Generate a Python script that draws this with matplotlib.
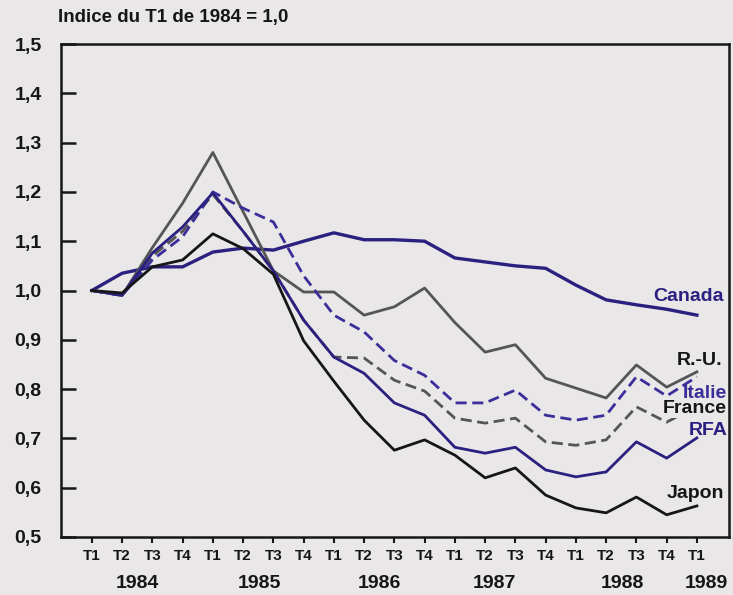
import matplotlib
matplotlib.use("Agg")
import matplotlib.pyplot as plt
import numpy as np

plt.rcParams['font.family'] = ['Liberation Sans', 'DejaVu Sans']
plt.rcParams['font.weight'] = 'bold'

quarters = ["T1", "T2", "T3", "T4"] * 5 + ["T1"]
years = ["1984", "1985", "1986", "1987", "1988", "1989"]
year_pos = [1.5, 5.55, 9.5, 13.3, 17.55, 20.3]

canada = [1.0, 1.035, 1.048, 1.048, 1.078, 1.086, 1.082, 1.10, 1.117, 1.103, 1.103, 1.10,
          1.066, 1.058, 1.05, 1.045, 1.011, 0.981, 0.971, 0.962, 0.95]
ru = [1.0, 0.99, 1.087, 1.177, 1.28, 1.16, 1.04, 0.997, 0.997, 0.95, 0.967, 1.005,
      0.935, 0.875, 0.89, 0.822, 0.802, 0.782, 0.849, 0.804, 0.835]
italie = [1.0, 0.99, 1.062, 1.109, 1.20, 1.167, 1.139, 1.03, 0.95, 0.916, 0.858, 0.828,
          0.772, 0.772, 0.798, 0.747, 0.737, 0.747, 0.825, 0.786, 0.825]
france = [1.0, 0.99, 1.07, 1.12, 1.195, 1.12, 1.04, 0.94, 0.865, 0.863, 0.818, 0.796,
          0.741, 0.731, 0.741, 0.693, 0.686, 0.697, 0.764, 0.733, 0.765]
rfa = [1.0, 0.99, 1.076, 1.129, 1.198, 1.12, 1.04, 0.94, 0.865, 0.832, 0.772, 0.747,
       0.682, 0.67, 0.682, 0.636, 0.622, 0.632, 0.693, 0.66, 0.701]
japon = [1.0, 0.995, 1.048, 1.062, 1.115, 1.085, 1.033, 0.898, 0.816, 0.737, 0.676, 0.697,
         0.666, 0.62, 0.64, 0.585, 0.559, 0.549, 0.581, 0.545, 0.563]

BG = '#e9e7e7'
BLUE = '#2a2080'
BLUE2 = '#3a2f9a'
GRAY = '#555555'
BLACK = '#161616'

fig = plt.figure(figsize=(7.33, 5.95), dpi=100, facecolor=BG)
ax = fig.add_axes([0.0832, 0.0975, 0.9113, 0.8285], facecolor=BG)

x = np.arange(len(quarters))
ax.plot(x, canada, color=BLUE, lw=2.4)
ax.plot(x, ru, color=GRAY, lw=2.0)
ax.plot(x, france, color=GRAY, lw=2.0, dashes=(4, 2))
ax.plot(x, italie, color=BLUE2, lw=2.0, dashes=(4, 2))
ax.plot(x, rfa, color=BLUE, lw=2.0)
ax.plot(x, japon, color=BLACK, lw=2.0)

ax.set_xlim(-1.02, 21.06)
ax.set_ylim(0.5, 1.5)

yt = np.round(np.arange(0.5, 1.51, 0.1), 1)
ax.set_yticks(yt)
ax.set_yticklabels([f"{v:.1f}".replace('.', ',') for v in yt], fontsize=14, fontweight='bold')
ax.tick_params(axis='y', direction='in', length=11, width=1.8, pad=14, colors=BLACK)
ax.set_xticks(x)
ax.set_xticklabels(quarters, fontsize=11, fontweight='bold')
ax.tick_params(axis='x', direction='out', length=4, width=1.5, pad=5, colors=BLACK)

for s in ax.spines.values():
    s.set_linewidth(1.8)
    s.set_color(BLACK)

for yl, yp in zip(years, year_pos):
    ax.text(yp, -0.094, yl, transform=ax.get_xaxis_transform(), ha='center', va='center',
            fontsize=14, fontweight='bold', color=BLACK)

fig.text(0.079, 0.970, "Indice du T1 de 1984 = 1,0", ha='left', va='center',
         fontsize=13.5, fontweight='bold', color=BLACK)

lab_kw = dict(ha='right', va='center', fontsize=14, fontweight='bold')
box = dict(facecolor=BG, edgecolor='none', pad=0.3)
ax.text(20.9, 0.987, "Canada", color=BLUE, **lab_kw)
ax.text(20.85, 0.859, "R.-U.", color=BLACK, **lab_kw)
ax.text(21.0, 0.792, "Italie", color=BLUE2, **lab_kw)
ax.text(21.0, 0.760, "France", color=BLACK, bbox=box, **lab_kw)
ax.text(21.0, 0.717, "RFA", color=BLUE, **lab_kw)
ax.text(20.9, 0.589, "Japon", color=BLACK, **lab_kw)

fig.savefig("out.png", dpi=100, facecolor=BG)
